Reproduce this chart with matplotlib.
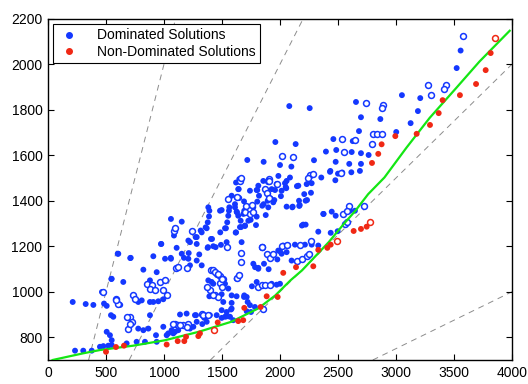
import matplotlib
matplotlib.use("Agg")
import matplotlib.pyplot as plt
from matplotlib.lines import Line2D

plt.rcParams['font.family'] = ['Liberation Sans', 'DejaVu Sans']

# ---------------- data ----------------
blue_filled = [
    (3557,2060),(3523,1983),(3051,1864),(3209,1851),(2080,1816),(2256,1807),(2655,1834),(3189,1794),
    (2698,1767),(2865,1759),(3126,1741),(2681,1706),(3002,1702),(2460,1671),(2135,1649),(2627,1662),
    (2396,1616),(2485,1623),(2618,1614),(2698,1609),(2764,1601),(2293,1578),(2000,1557),(2098,1550),
    (2480,1571),(2597,1562),(2698,1562),(2434,1531),(2615,1525),(2689,1531),(2356,1502),(2086,1502),
    (1960,1658),(1718,1579),(1859,1571),(1986,1509),(1649,1495),(2477,1490),(1644,1451),(1804,1447),
    (1957,1447),(2054,1455),(2146,1464),(1819,1422),(2008,1420),(2209,1429),(2267,1435),(1804,1396),
    (1859,1385),(1920,1409),(1951,1403),(2057,1374),(2106,1371),(2166,1377),(2221,1400),(1629,1349),
    (1799,1330),(1877,1337),(2373,1342),(2446,1352),(2480,1334),(2603,1356),(1661,1312),(1727,1312),
    (2221,1295),(2189,1291),(1698,1289),(1655,1284),(2431,1527),(2500,1519),(2537,1524),(2158,1466),
    (2230,1473),(2273,1477),(2049,1460),(2164,1400),(2233,1403),(2109,1374),(2170,1381),(2376,1342),
    (2646,1356),(2497,1266),(2437,1259),(2330,1264),(2200,1295),(2330,1203),(2273,1207),(2215,1207),
    (2129,1207),(2071,1203),(2100,1137),(2057,1174),
    (1060,1320),(1153,1308),(1382,1371),(1391,1356),(1388,1331),(1377,1305),(1368,1279),(1497,1359),
    (1563,1371),(1560,1356),(1554,1334),(1545,1305),(1534,1279),(1612,1385),(1626,1415),(1640,1451),
    (1621,1480),(1626,1352),(1316,1269),(1086,1247),(1273,1240),(1282,1210),(1210,1225),(1109,1193),
    (1213,1170),(1172,1149),(1058,1149),(1009,1145),(977,1210),(908,1156),(709,1148),(606,1167),
    (546,1056),(649,1043),(822,1097),(937,1086),(465,999),(623,942),(213,955),(325,946),(391,942),
    (483,948),(1325,1261),(1414,1232),(1379,1196),(1445,1196),(1485,1261),(1540,1218),(1618,1260),
    (1640,1334),(1649,1412),(1690,1397),(1692,1356),(1664,1284),(1741,1444),(1799,1447),(1793,1293),
    (1747,1316),(1847,1378),(1894,1400),(1942,1393),(1971,1473),(2014,1444),(2043,1477),(1813,1466),
    (1856,1487),(1928,1451),(2057,1487),(1483,1356),(1583,1422),(1612,1371),(1684,1342),(1770,1371),
    (1899,1371),(1526,1279),(1621,1261),(1698,1291),(1405,1232),(1224,1218),(1282,1240),(1359,1283),
    (1813,1105),(1862,1123),(1902,1099),(1977,1142),(2000,1178),(1799,1043),(1758,1024),(1690,977),
    (1626,980),(1583,951),(1578,922),(1540,892),(1382,1050),(1425,1035),(1391,980),(1497,989),
    (1454,897),(1497,885),(1526,890),(1396,897),(1347,885),(1368,868),(1276,897),(1330,858),
    (1376,1193),(1425,1200),(1491,1206),(1669,1218),(2028,1203),(1985,1181),(2014,1167),(1060,1145),
    (1153,1167),(1210,1145),(1224,1116),(1282,1137),(1304,1164),(1325,1116),(1526,1035),(1554,1014),
    (1583,984),(1411,1043),(1626,1057),(1655,1072),(1770,1123),(1785,1108),(1813,1101),(1928,1035),
    (1971,1031),(2000,1035),(1692,984),(1713,977),(1721,955),(1741,941),(1511,955),(1713,914),
    (1750,911),(1784,933),(1583,926),(1267,897),(1282,868),(1138,900),(1497,919),(1540,911),
    (1569,890),(1597,875),(1066,831),(1095,824),(1123,831),(1224,838),(1253,846),(1195,904),
    (233,741),(304,741),(377,741),(448,758),(477,761),(520,763),(549,766),(678,773),(764,780),
    (836,780),(937,780),(506,938),(549,1057),(601,1167),(713,1149),(974,1210),(778,955),(808,962),
    (879,955),(908,955),(951,958),(994,967),(879,1050),(543,897),(563,890),(879,897),(778,838),
    (822,831),(865,838),(506,824),(534,809),(549,787),(931,809),(994,846),(1037,817),(1023,809),
    (1080,817),
]
blue_hollow = [
    (3580,2125),(3279,1907),(3301,1864),(3428,1910),(3414,1892),(2741,1829),(2888,1820),(2882,1808),
    (2799,1692),(2833,1692),(2882,1692),(2534,1673),(2646,1665),(2790,1648),(2020,1598),(2115,1590),
    (2551,1612),(2526,1522),(2258,1515),(1902,1495),(2241,1502),(2282,1517),(1652,1485),(1899,1485),
    (1971,1474),(1870,1451),(1888,1435),(1632,1415),(1909,1413),(1707,1378),(1761,1382),(1698,1349),
    (1741,1343),(1770,1349),(2543,1343),(2597,1378),(2574,1356),(2724,1378),(2560,1298),(2574,1305),
    (2267,1221),(2172,1207),(2144,1137),(2187,1145),(2230,1155),(2250,1168),(1089,1269),(1239,1269),
    (1095,1279),(1106,1103),(1201,1104),(1554,1407),(1664,1170),(1666,1132),(1842,1196),(1888,1164),
    (1914,1149),(1942,1167),(2014,1203),(2057,1207),(1454,1079),(1483,1068),(1511,1057),(1405,1094),
    (1483,1037),(1503,1021),(1396,1006),(1440,984),(1468,977),(1547,1196),(1849,1196),(1123,1108),
    (1425,1094),(1440,1086),(1468,1079),(1497,1057),(1368,1021),(1425,984),(1813,1021),(1842,1028),
    (1870,1031),(1914,1031),(1856,926),(1325,904),(1339,897),(1382,897),(1095,860),(1123,853),
    (1166,853),(1210,860),(1664,1500),(1902,1487),(477,999),(586,970),(606,944),(735,984),(750,970),
    (850,1035),(894,1028),(965,1043),(1009,1050),(879,1014),(922,1006),(994,1006),(1023,984),
    (707,890),(721,868),(692,838),(678,890),(707,860),(1080,860),(1138,853),(1195,846),(1630,1060),
    (1650,1075),(586,962),
]
red_filled = [
    (3816,2049),(3773,1974),(3690,1913),(3551,1864),(3402,1842),(3368,1785),(3293,1733),(2994,1684),
    (3178,1694),(2876,1648),(2847,1606),(2793,1566),(2747,1286),(2698,1276),(2635,1267),(2437,1207),
    (2408,1193),(2330,1184),(2138,1108),(2287,1112),(2028,1083),(1980,977),(1885,980),(1833,933),
    (1692,929),(1683,875),(1640,871),(1463,865),(1296,805),(1310,817),(1190,802),(1175,783),
    (1118,783),(1023,768),(500,736),(586,757),(655,763),
]
red_hollow = [(3853,2117),(2776,1305),(2488,1222),(1431,831)]

front_x = [40, 300, 450, 735, 1010, 1300, 1580, 1810, 1960, 2090, 2190, 2420, 2550, 2650,
           2760, 2900, 3090, 3290, 3520, 3720, 3980]
front_y = [700, 729, 744, 763, 787, 824, 868, 926, 984, 1050, 1094, 1218, 1298, 1356,
           1429, 1502, 1633, 1764, 1896, 2012, 2147]

ref_slopes = [2, 1, 0.5, 0.25]

x_ticks = [0, 500, 1000, 1500, 2000, 2500, 3000, 3500, 4000]
y_ticks = [800, 1000, 1200, 1400, 1600, 1800, 2000, 2200]

labels = ["Dominated Solutions", "Non-Dominated Solutions"]

BLUE = "#1438ff"
RED = "#f02814"
GREEN = "#14e614"

# ---------------- figure ----------------
fig = plt.figure(figsize=(5.28, 3.84), dpi=100)
ax = fig.add_axes([0.0909, 0.0625, 0.8788, 0.8888])

for k in ref_slopes:
    ax.axline((0, 0), slope=k, color="#8c8c8c", lw=0.7, ls=(0, (6, 5)), zorder=1)

bx, by = zip(*blue_filled)
ax.scatter(bx, by, s=18, color=BLUE, edgecolors="none", zorder=2)
hx, hy = zip(*blue_hollow)
ax.scatter(hx, hy, s=18, facecolors="white", edgecolors=BLUE, linewidths=1.1, zorder=2)

ax.plot(front_x, front_y, color=GREEN, lw=1.6, zorder=3)

rx, ry = zip(*red_filled)
ax.scatter(rx, ry, s=18, color=RED, edgecolors="none", zorder=4)
qx, qy = zip(*red_hollow)
ax.scatter(qx, qy, s=18, facecolors="white", edgecolors=RED, linewidths=1.1, zorder=4)

ax.set_xlim(0, 4000)
ax.set_ylim(700, 2200)
ax.set_xticks(x_ticks)
ax.set_yticks(y_ticks)
ax.tick_params(direction="in", top=True, right=True, length=4, width=0.8,
               labelsize=10, pad=4, colors="black")
for sp in ax.spines.values():
    sp.set_linewidth(1.0)
    sp.set_color("black")

handles = [Line2D([], [], ls="none", marker="o", ms=4, color=BLUE),
           Line2D([], [], ls="none", marker="o", ms=4, color=RED)]
leg = ax.legend(handles, labels, loc="upper left", fontsize=10, frameon=True,
                fancybox=False, edgecolor="black", framealpha=1, borderaxespad=0.35,
                handlelength=1.6, handletextpad=1.2, borderpad=0.35, labelspacing=0.15)
leg.get_frame().set_linewidth(0.8)

fig.savefig("out.png", dpi=100)
